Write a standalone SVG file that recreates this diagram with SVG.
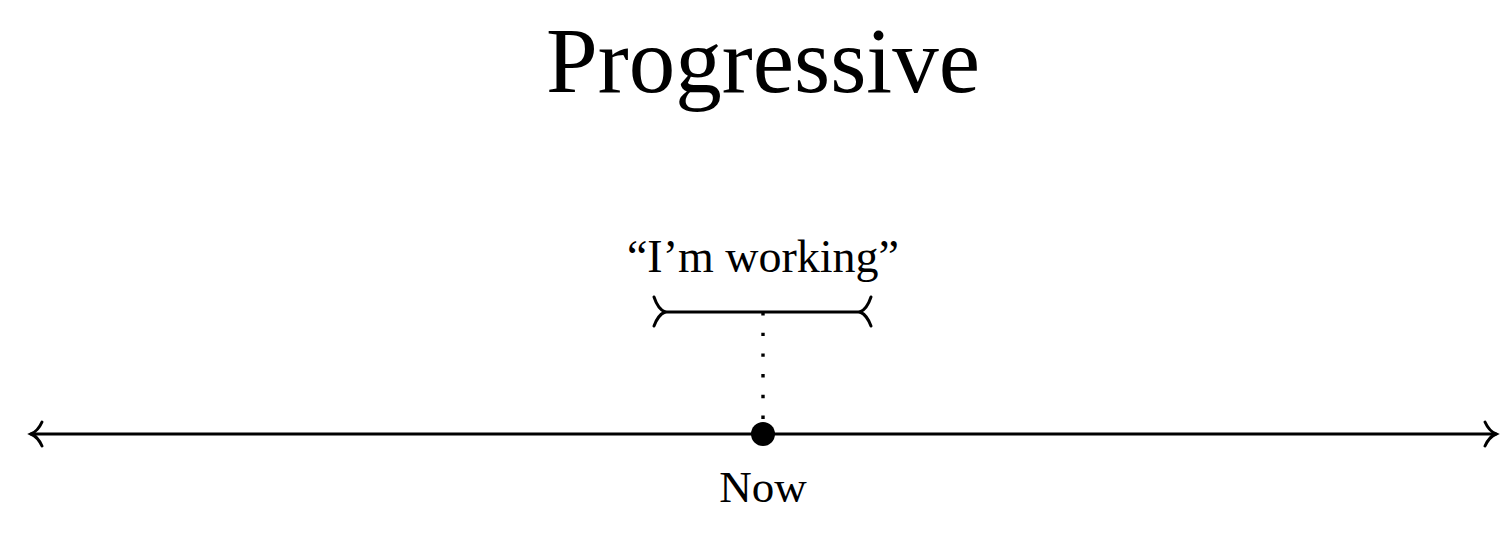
<svg xmlns="http://www.w3.org/2000/svg" width="1500" height="534" viewBox="0 0 1500 534">
<style>
text{font-family:"Liberation Serif","DejaVu Serif",serif;fill:#000;text-anchor:middle}
.ln{stroke:#000;stroke-width:3;fill:none;stroke-linecap:round}
</style>
<rect width="1500" height="534" fill="#fff"/>
<g id="title"><text x="763" y="92" font-size="93">Progressive</text></g>
<g id="connectors">
<line class="ln" x1="31" y1="434" x2="1496" y2="434"/>
<path class="ln" d="M42,422 Q38,431 31,434 Q38,437 42,446"/>
<path class="ln" d="M1485,422 Q1489,431 1496,434 Q1489,437 1485,446"/>
<line x1="763" y1="312" x2="763" y2="420" stroke="#000" stroke-width="3.4" stroke-dasharray="3.4 17.3"/>
</g>
<g id="interval">
<line class="ln" x1="665" y1="312" x2="860" y2="312"/>
<path class="ln" d="M654,297 Q658,309 665,312 Q658,315 654,326"/>
<path class="ln" d="M871,297 Q867,309 860,312 Q867,315 871,326"/>
<text x="763" y="272" font-size="46">“I’m working”</text>
</g>
<g id="now">
<circle cx="763" cy="434" r="12" fill="#000"/>
<text x="763" y="502" font-size="45">Now</text>
</g>
</svg>
